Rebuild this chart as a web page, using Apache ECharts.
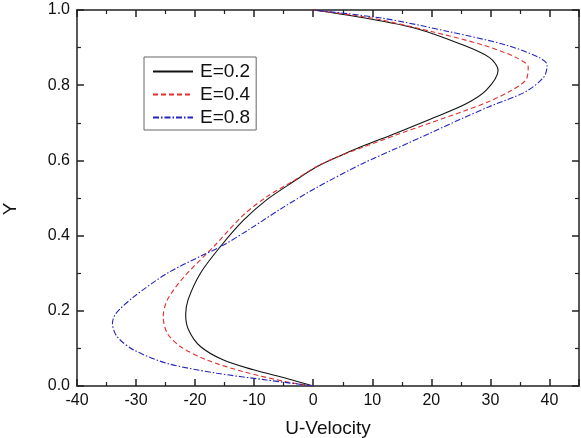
<!DOCTYPE html>
<html>
<head>
<meta charset="utf-8">
<script src="https://cdn.jsdelivr.net/npm/echarts@6/dist/echarts.min.js"></script>
<style>html,body{margin:0;padding:0;background:#fff}#c{width:581px;height:438px}</style>
</head>
<body>
<div id="c"></div>
<script>
const seriesNames = ['E=0.2', 'E=0.4', 'E=0.8'];
// [U-Velocity, Y]
const e02 = [[0,0],[-4.5,0.02],[-10.1,0.043],[-15.2,0.069],[-19.1,0.105],[-21.1,0.149],[-21.6,0.189],[-21.2,0.229],[-19.1,0.30],[-15.5,0.375],[-11.8,0.441],[-7.9,0.495],[-3.4,0.543],[0.6,0.583],[4.5,0.612],[8.4,0.638],[14.1,0.673],[19.7,0.709],[25.8,0.75],[29.3,0.787],[31.3,0.84],[29.8,0.874],[24.7,0.911],[17.4,0.951],[9.0,0.978],[0,1]];
const e04 = [[0,0],[-4.5,0.011],[-11.8,0.038],[-18.0,0.069],[-22.5,0.105],[-24.7,0.14],[-25.4,0.184],[-24.7,0.229],[-21.9,0.29],[-16.9,0.37],[-11.8,0.455],[-7.9,0.503],[-3.4,0.545],[0.6,0.584],[4.5,0.612],[8.4,0.635],[14.1,0.668],[19.7,0.699],[25.3,0.73],[29.5,0.755],[33.2,0.783],[36.0,0.814],[36.4,0.848],[34.3,0.874],[28.7,0.907],[20.2,0.942],[10.1,0.978],[0,1]];
const e08 = [[0,0],[-7.9,0.016],[-16.3,0.034],[-24.7,0.06],[-30.4,0.096],[-33.2,0.131],[-34.0,0.167],[-33.4,0.193],[-30.4,0.237],[-24.7,0.30],[-19.1,0.345],[-15.5,0.372],[-10.7,0.418],[-5.1,0.475],[0.6,0.528],[8.4,0.592],[14.1,0.632],[19.7,0.672],[25.3,0.712],[29.8,0.743],[36.0,0.783],[39.1,0.823],[39.6,0.854],[38.2,0.874],[32.6,0.907],[23.1,0.942],[11.8,0.978],[0,1]];
const xRange = [-40, 45];
const yRange = [0, 1];

const axisColor = '#222';
const font = 'Arial, Liberation Sans, sans-serif';
function xAx(pos, labels) {
  return {
    type: 'value', position: pos, min: xRange[0], max: xRange[1], interval: 10,
    name: labels ? 'U-Velocity' : '', nameLocation: 'middle', nameGap: 33,
    nameTextStyle: {fontSize: 19, color: '#111', fontFamily: font},
    axisLine: {show: true, onZero: false, lineStyle: {color: axisColor, width: 1.5}},
    axisTick: {show: true, inside: true, length: 7, lineStyle: {color: axisColor, width: 1.5}},
    minorTick: {show: true, splitNumber: 2, length: 4, lineStyle: {color: axisColor, width: 1.2}},
    axisLabel: {show: labels, margin: 7, fontSize: 16, color: '#111', fontFamily: font, showMaxLabel: false},
    splitLine: {show: false}, minorSplitLine: {show: false}
  };
}
function yAx(pos, labels) {
  return {
    type: 'value', position: pos, min: yRange[0], max: yRange[1], interval: 0.2,
    name: labels ? 'Y' : '', nameLocation: 'middle', nameGap: 57, nameRotate: 90,
    nameTextStyle: {fontSize: 19, color: '#111', fontFamily: font, padding: [0, 22, 0, 0]},
    axisLine: {show: true, onZero: false, lineStyle: {color: axisColor, width: 1.5}},
    axisTick: {show: true, inside: true, length: 7, lineStyle: {color: axisColor, width: 1.5}},
    minorTick: {show: true, splitNumber: 2, length: 4, lineStyle: {color: axisColor, width: 1.2}},
    axisLabel: {show: labels, margin: 7, fontSize: 16, color: '#111', fontFamily: font,
      formatter: v => v.toFixed(1)},
    splitLine: {show: false}, minorSplitLine: {show: false}
  };
}
const chart = echarts.init(document.getElementById('c'), null, {renderer: 'canvas'});
chart.setOption({
  animation: false,
  backgroundColor: '#fff',
  grid: {left: 77, right: 2, top: 10, bottom: 52, containLabel: false, outerBoundsMode: 'none'},
  xAxis: [xAx('bottom', true), xAx('top', false)],
  yAxis: [yAx('left', true), yAx('right', false)],
  legend: {
    orient: 'vertical', left: 144, top: 57,
    itemWidth: 40, itemHeight: 14, itemGap: 4,
    padding: [5, 6, 3, 8],
    borderColor: '#666', borderWidth: 1, borderRadius: 0,
    itemStyle: {opacity: 0},
    textStyle: {fontSize: 19, color: '#111', fontFamily: font, padding: [0, 0, 0, 2]},
    data: seriesNames
  },
  series: [
    {name: seriesNames[0], type: 'line', data: e02, symbol: 'none', smooth: 0.3,
      lineStyle: {color: '#111', width: 1.1, type: 'solid'}, itemStyle: {color: '#111'}},
    {name: seriesNames[1], type: 'line', data: e04, symbol: 'none', smooth: 0.3,
      lineStyle: {color: '#e0302f', width: 1.1, type: [5, 3]}, itemStyle: {color: '#e0302f'}},
    {name: seriesNames[2], type: 'line', data: e08, symbol: 'none', smooth: 0.3,
      lineStyle: {color: '#2424c0', width: 1.1, type: [6, 2, 1.5, 2]}, itemStyle: {color: '#2424c0'}}
  ]
});
</script>
</body>
</html>
